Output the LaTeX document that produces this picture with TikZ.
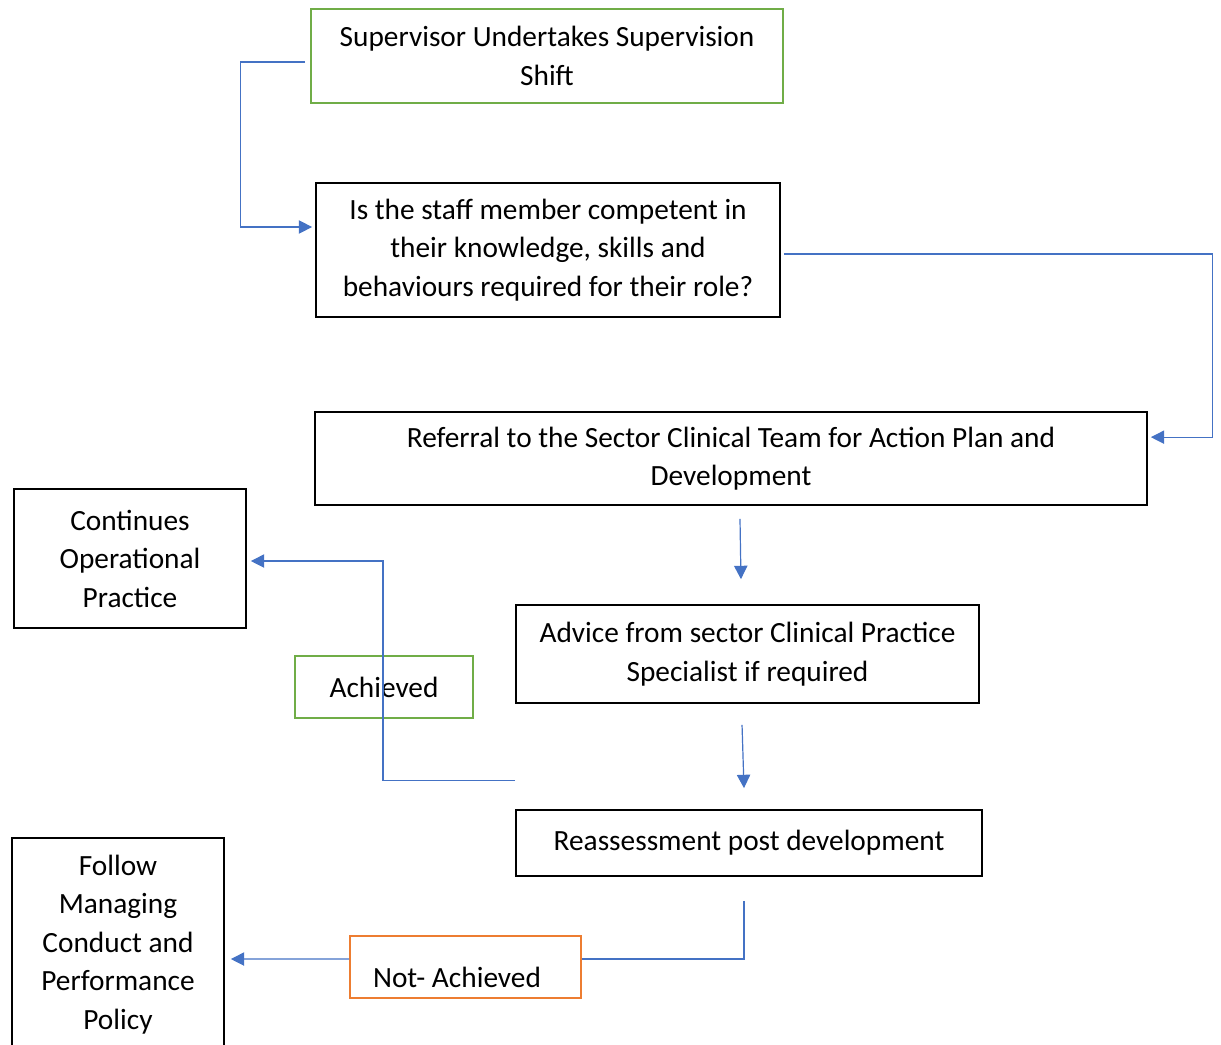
\documentclass[tikz,border=0pt]{standalone}
\usepackage{fontspec}
\setmainfont{Carlito}
\usetikzlibrary{arrows.meta,positioning}
\definecolor{lineblue}{HTML}{4472C4}
\definecolor{boxgreen}{HTML}{70AD47}
\definecolor{boxorange}{HTML}{ED7D31}
\tikzset{
    flow box/.style = {
        draw,
        line width=1.3pt,
        align=center,
        font=\fontsize{22pt}{28.9pt}\selectfont,
        },
    green box/.style = {
        flow box,
        draw=boxgreen,
        },
    orange box/.style = {
        flow box,
        draw=boxorange,
        },
    plain edge/.style = {
        draw=lineblue,
        line width=0.9pt,
        },
    flow edge/.style = {
        plain edge,
        -{Triangle[length=10pt,width=10pt]},
        },
}
\begin{document}
\begin{tikzpicture}[x=0.75pt,y=-0.75pt]
            \clip (0,0) rectangle (1221,1045);
            \node[green box, minimum width=354pt, minimum height=70.5pt] (sup) at (547,56) {Supervisor Undertakes Supervision\\Shift};
            \node[flow box, minimum width=348pt, minimum height=100.5pt] (comp) at (548,250) {Is the staff member competent in\\their knowledge, skills and\\behaviours required for their role?};
            \node[flow box, minimum width=624pt, minimum height=69.75pt] (ref) at (731,458.5) {Referral to the Sector Clinical Team for Action Plan and\\Development};
            \node[flow box, minimum width=174pt, minimum height=104.25pt] (cont) at (130,558.5) {Continues\\Operational\\Practice};
            \node[flow box, minimum width=347.25pt, minimum height=73.5pt] (adv) at (747.5,654) {Advice from sector Clinical Practice\\Specialist if required};
            \node[green box, minimum width=133.5pt, minimum height=46.5pt] (ach) at (384,687) {Achieved};
            \node[flow box, minimum width=349.5pt, minimum height=49.5pt] (reas) at (749,843) {Reassessment post development};
            \node[flow box, minimum width=159pt, minimum height=159.75pt] (follow) at (118,944.5) {Follow\\Managing\\Conduct and\\Performance\\Policy};
            \node[orange box, minimum width=173.25pt, minimum height=46.5pt, text height=30pt, text depth=0pt] (notach) at (465.5,967) {Not- Achieved\hspace*{12.75pt}};

            \draw[flow edge] ([xshift=-3.75pt,yshift=-4.5pt]sup.west) -- ++(-65,0) |- ([xshift=-2.25pt,yshift=17.25pt]comp.west);
            \draw[flow edge] ([xshift=2.25pt,yshift=-3pt]comp.east) -- ++(429,0) |- ([xshift=2.25pt,yshift=16pt]ref.east);
            \draw[flow edge] ([xshift=6.75pt,yshift=-9.75pt]ref.south) -- ([xshift=-4.9pt,yshift=18.75pt]adv.north);
            \draw[flow edge] ([xshift=-4.1pt,yshift=-15.75pt]adv.south) -- ([xshift=-3.75pt,yshift=15.75pt]reas.north);
            \draw[flow edge] ([yshift=21.75pt]reas.north west) -| ([xshift=-0.75pt]ach.center) |- ([xshift=3pt,yshift=-1.9pt]cont.east);
            \draw[plain edge] ([xshift=-3.75pt,yshift=-18pt]reas.south) |- ([yshift=6pt]notach.east);
            \draw[flow edge] ([yshift=6pt]notach.west) -- ([xshift=4.5pt,yshift=-10.9pt]follow.east);
        \end{tikzpicture}
\end{document}
